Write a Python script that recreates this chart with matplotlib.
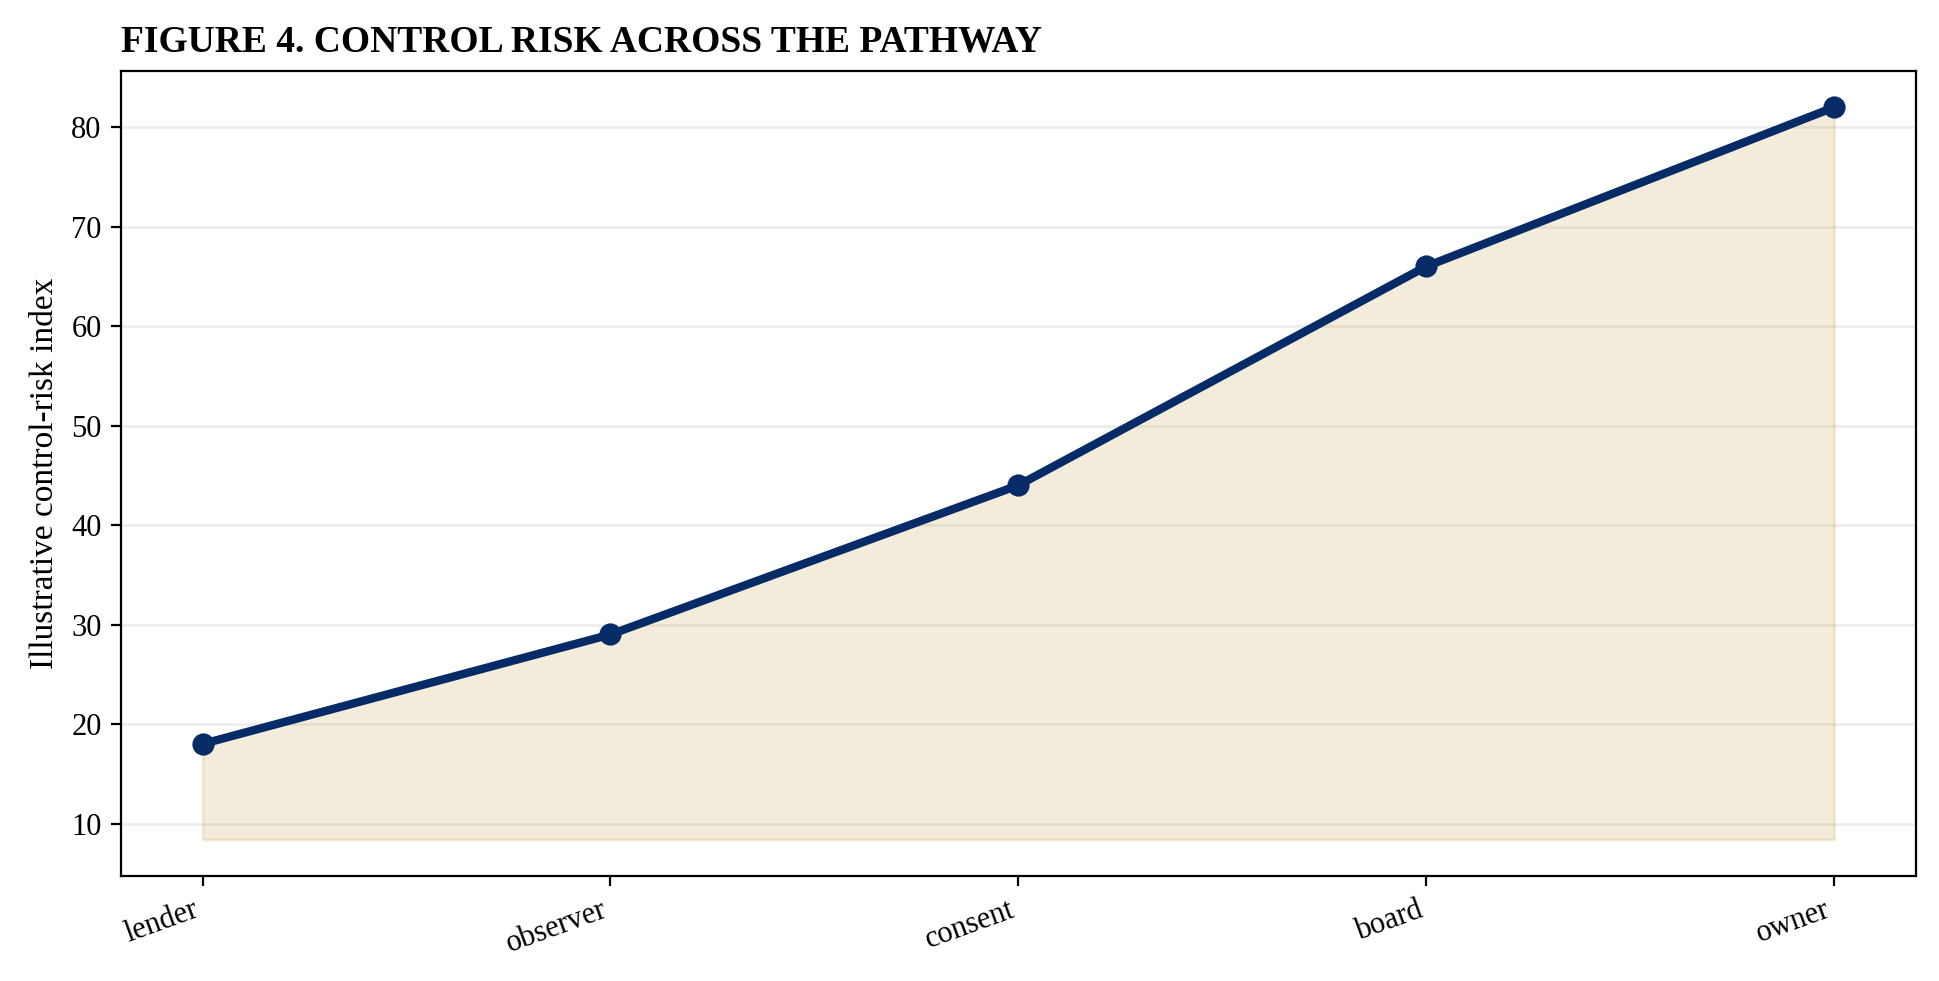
import matplotlib
matplotlib.use("Agg")
import matplotlib.pyplot as plt

# datos
etapas = ["lender", "observer", "consent", "board", "owner"]
riesgo = [18, 29, 44, 66, 82]
base = 8.4

plt.rcParams["font.family"] = ["Liberation Serif", "DejaVu Serif"]

fig = plt.figure(figsize=(9.695, 4.905), dpi=200)
ax = fig.add_axes([0.0624, 0.107, 0.9256, 0.821])

x = list(range(len(etapas)))
ax.fill_between(x, riesgo, base, color="#c4a04c", alpha=0.2, linewidth=1)
ax.plot(x, riesgo, color="#062b66", linewidth=3, marker="o", markersize=7)

ax.grid(axis="y", color="#e6e6e6", linewidth=1, alpha=0.7)
ax.set_axisbelow(True)
ax.set_xticks(x)
ax.set_xticklabels(etapas, rotation=20, ha="right")
ax.tick_params(labelsize=11)
ax.set_ylabel("Illustrative control-risk index", fontsize=12)
ax.set_title("FIGURE 4. CONTROL RISK ACROSS THE PATHWAY", loc="left",
             fontsize=13.5, fontweight="bold", pad=7)

fig.savefig("out.png", dpi=200)
